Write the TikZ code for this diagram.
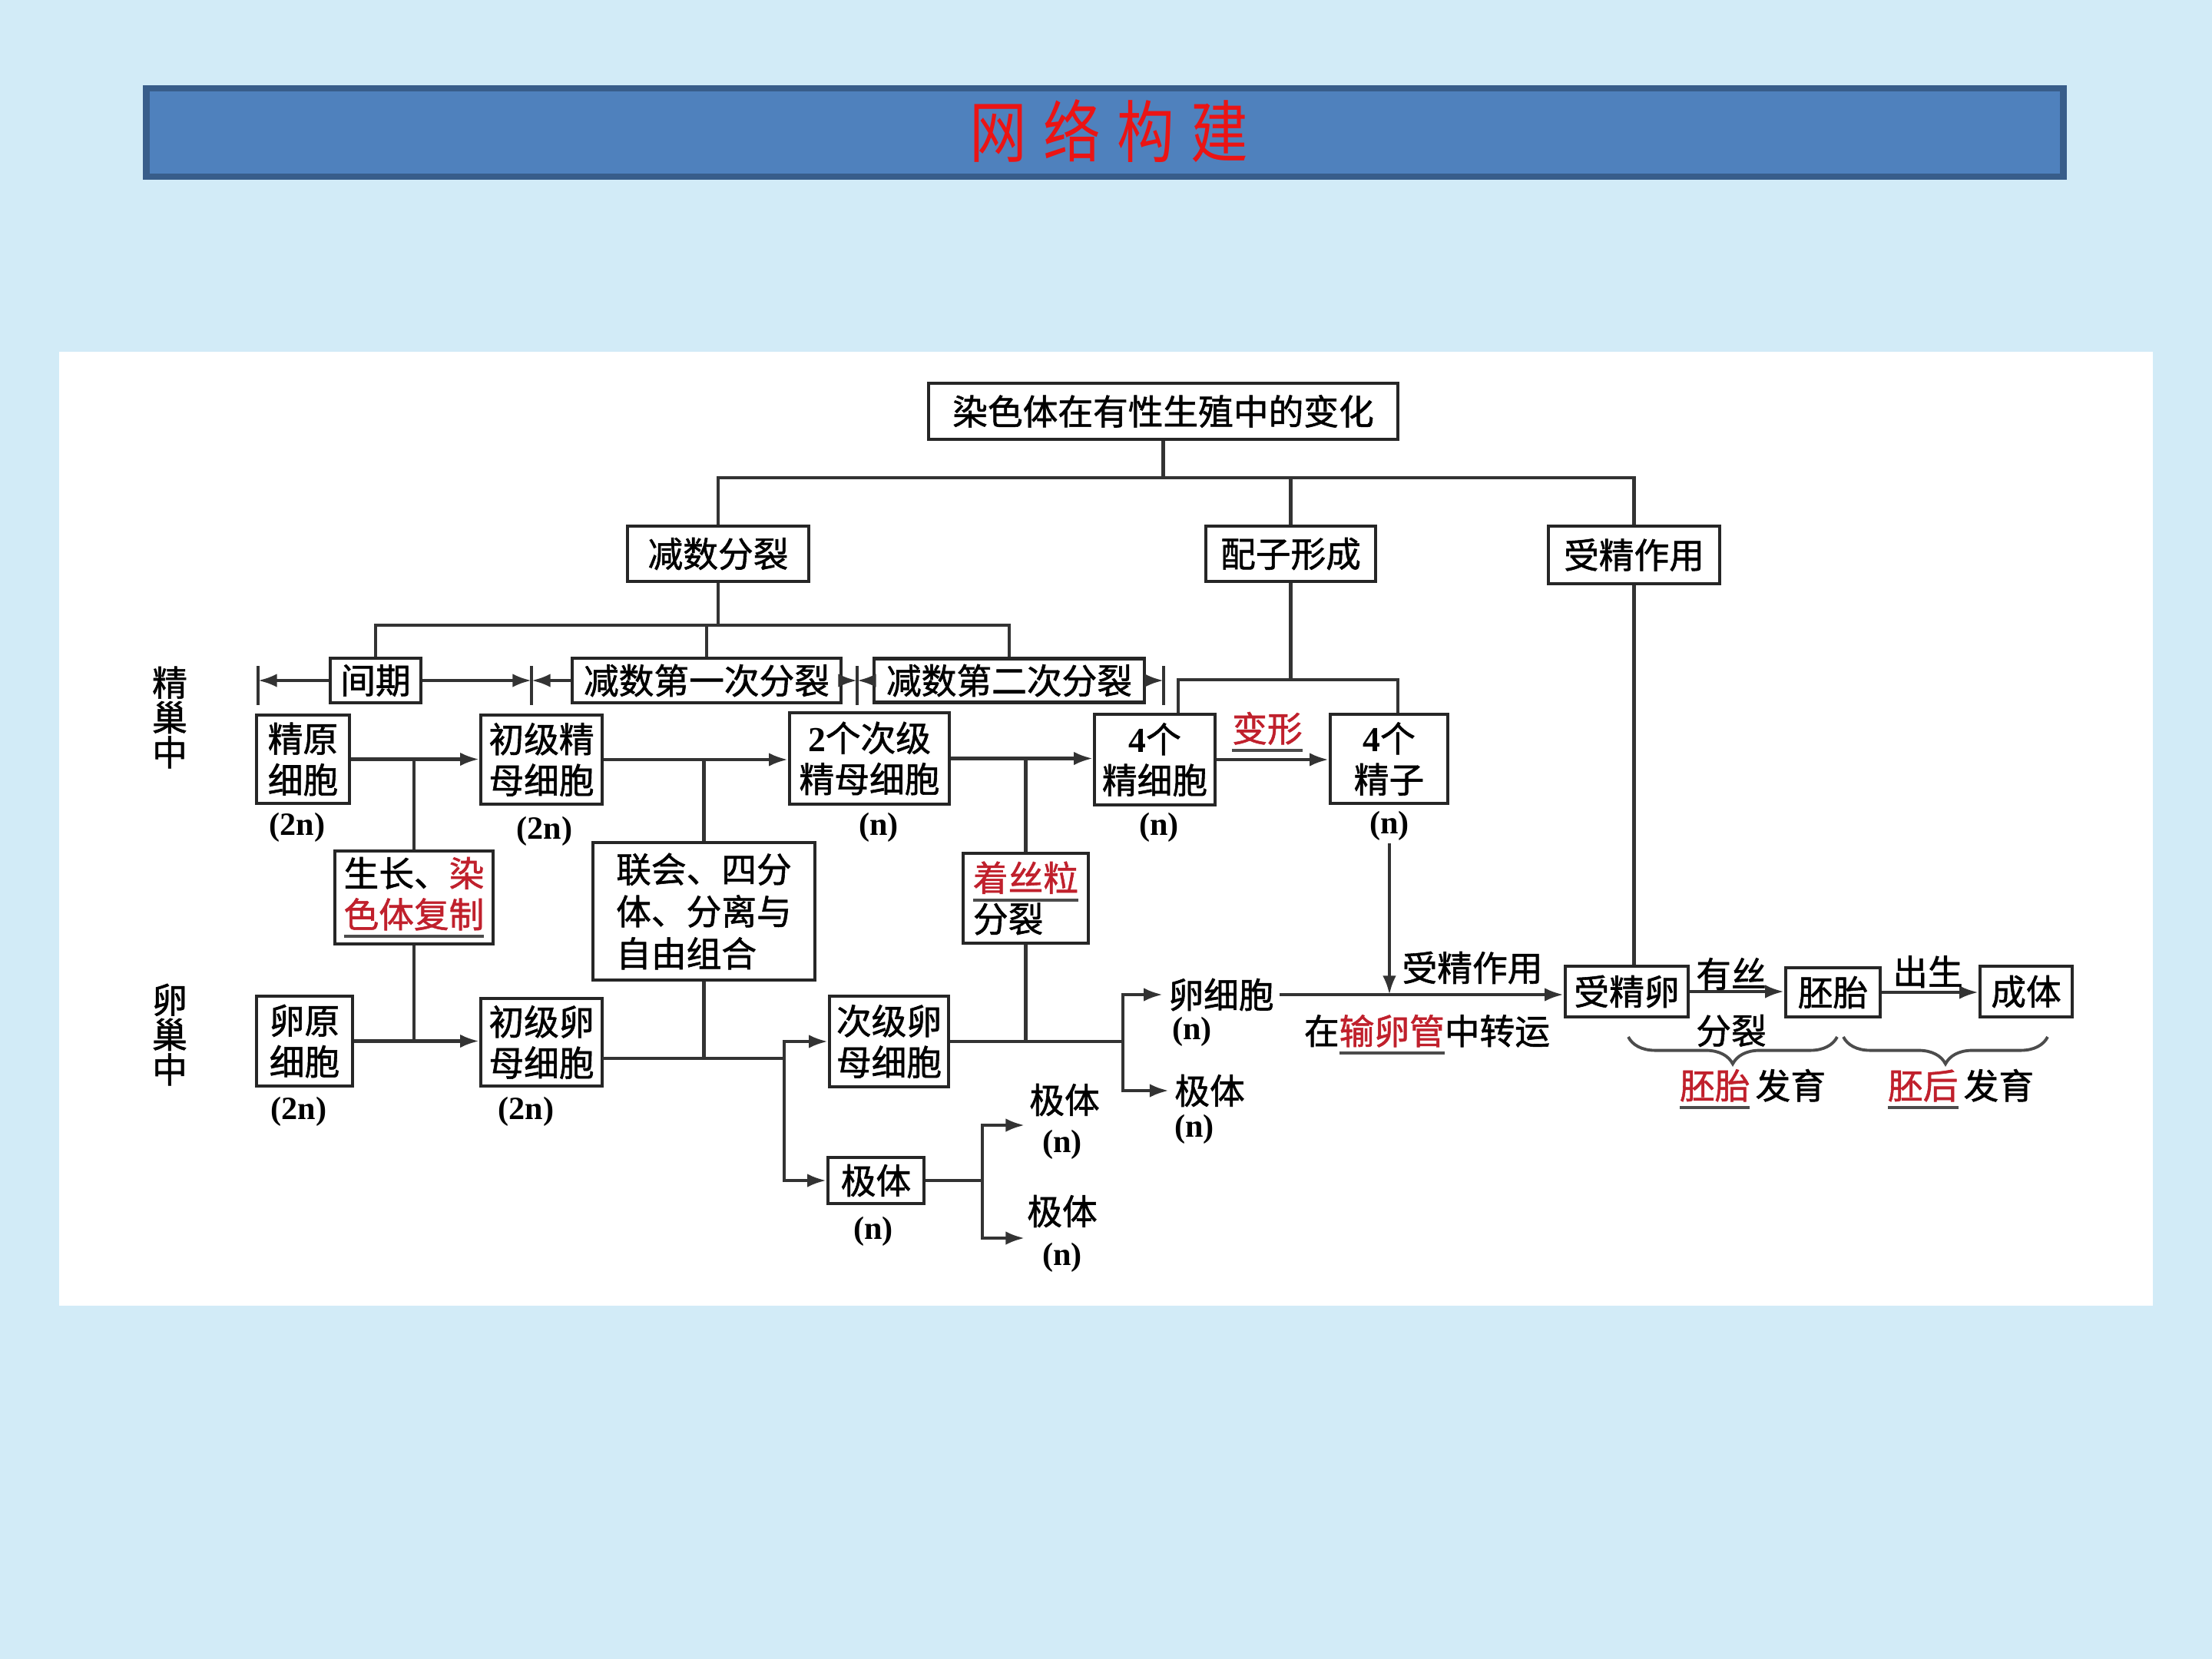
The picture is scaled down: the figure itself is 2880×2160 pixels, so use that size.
\documentclass[tikz,border=0pt]{standalone}
\usepackage{fontspec}
\setmainfont{Liberation Serif}
\newfontfamily\cjk[FakeBold=1.2]{Noto Sans CJK SC}
\newfontfamily\ttl[FakeStretch=0.85]{Noto Sans CJK SC}
\usetikzlibrary{arrows.meta,decorations.pathreplacing}
\definecolor{bg}{RGB}{210,235,247}
\definecolor{barfill}{RGB}{79,129,189}
\definecolor{barline}{RGB}{56,93,138}
\definecolor{dred}{RGB}{192,32,44}
\definecolor{tred}{RGB}{235,20,20}
\newcommand{\uln}[1]{\leavevmode\setbox0=\hbox{#1}\rlap{\color{black!70}\rule[-3.8pt]{\wd0}{1.1pt}}\box0}
\newcommand{\rd}[1]{\textcolor{dred}{#1}}
\newcommand{\dg}[1]{{\rmfamily\bfseries #1}}
\tikzset{
  bx/.style={draw=black!85, line width=1.3pt, fill=white, inner sep=0pt, align=center,
    font=\cjk\fontsize{13pt}{15.2pt}\selectfont},
  wh/.style 2 args={minimum width=#1cm, minimum height=#2cm},
  tx/.style={inner sep=2pt, align=center, font=\cjk\fontsize{13pt}{15.2pt}\selectfont},
  nl/.style={inner sep=1pt, font=\rmfamily\bfseries\fontsize{12pt}{14pt}\selectfont},
  ln/.style={draw=black!80, line width=1.15pt},
  ar/.style={ln, -{Latex[length=7pt,width=5pt]}},
  brc/.style={draw=black!70, line width=1.1pt, decorate, decoration={brace, mirror, amplitude=10pt}},
}
\begin{document}
\begin{tikzpicture}[x=0.01cm, y=-0.01cm]
\useasboundingbox (0,0) rectangle (2880,2160);
\fill[bg] (0,0) rectangle (2880,2160);
\fill[white] (77,458) rectangle (2803,1700);
% title bar
\node[fill=barfill, draw=barline, line width=2.5pt, minimum width=24.95cm, minimum height=1.15cm, inner sep=0pt] (bar) at (1438.5,172.5) {};
\node[font=\ttl\fontsize{25pt}{25pt}\selectfont, text=tred, inner sep=0pt] (title) at (1444,171) {网\hspace{6pt}络\hspace{6pt}构\hspace{6pt}建};

% top level
\node[bx, wh={6.11}{0.73}] (top) at (1514.5,535.5) {染色体在有性生殖中的变化};
\node[bx, wh={2.36}{0.72}] (jsfl) at (935,721) {减数分裂};
\node[bx, wh={2.21}{0.72}] (pzxc) at (1680.5,721) {配子形成};
\node[bx, wh={2.23}{0.75}] (sjzy) at (2127.5,722.5) {受精作用};
\coordinate (bus) at (1500,622);
\draw[ln] (top.south) -- (top.south |- bus);
\draw[ln] (jsfl.north) -- (jsfl.north |- bus) -- (sjzy.north |- bus) -- (sjzy.north);
\draw[ln] (pzxc.north) -- (pzxc.north |- bus);

% phases
\node[bx, wh={1.18}{0.58}] (jq) at (489,886) {间期};
\node[bx, wh={3.50}{0.58}] (j1) at (920,886) {减数第一次分裂};
\node[bx, wh={3.52}{0.57}] (j2) at (1314,886) {减数第二次分裂};
\coordinate (bus2) at (900,814);
\draw[ln] (jsfl.south) -- (jsfl.south |- bus2);
\draw[ln] (jq.north) -- (jq.north |- bus2) -- (j2.north |- bus2) -- (j2.north);
\draw[ln] (j1.north) -- (j1.north |- bus2);
\coordinate (t1) at (336,888);
\coordinate (t2) at (692,888);
\coordinate (t3) at (1116,888);
\coordinate (t4) at (1515,888);
\foreach \t in {t1,t2,t3,t4} {\draw[ln] (\t) ++(0,-21) -- ++(0,51);}
\draw[ar] (jq.west) -- (jq.west -| t1);
\draw[ar] (jq.east) -- (jq.east -| t2);
\draw[ar] (j1.west) -- (j1.west -| t2);
\draw[ar] (j1.east) -- (j1.east -| t3);
\draw[ar] (j2.west) -- (j2.west -| t3);
\draw[ar] (j2.east) -- (j2.east -| t4);

% side labels
\node[tx, font=\cjk\fontsize{13pt}{12.9pt}\selectfont] (jc) at (221,934) {精\\巢\\中};
\node[tx, font=\cjk\fontsize{13pt}{12.9pt}\selectfont] (lc) at (221,1347) {卵\\巢\\中};

% row 1 (sperm)
\node[bx, wh={1.21}{1.15}] (jy) at (394.5,988.5) {精原\\细胞};
\node[bx, wh={1.58}{1.16}] (cjj) at (705,989) {初级精\\母细胞};
\node[bx, wh={2.08}{1.19}] (cjj2) at (1132,987.5) {\dg{2}个次级\\精母细胞};
\node[bx, wh={1.57}{1.18}] (jxb) at (1503.5,989) {\dg{4}个\\精细胞};
\node[bx, wh={1.53}{1.16}] (jz) at (1808.5,988) {\dg{4}个\\精子};
\node[nl] (jyn) at (387,1077) {(2n)};
\node[nl] (cjjn) at (709,1082) {(2n)};
\node[nl] (cjj2n) at (1144,1077) {(n)};
\node[nl] (jxbn) at (1509,1077) {(n)};
\node[nl] (jzn) at (1809,1075) {(n)};
\draw[ar] (jy.east) -- (jy.east -| cjj.west);
\draw[ar] (cjj.east) -- (cjj.east -| cjj2.west);
\draw[ar] (cjj2.east) -- (cjj2.east -| jxb.west);
\draw[ar] (jxb.east) -- (jxb.east -| jz.west);
\node[tx, text=dred] (bxing) at (1650,953) {\uln{变形}};
\coordinate (g1) at (1534,885);
\coordinate (g2) at (1820,885);
\draw[ln] (g1 |- jxb.north) -- (g1) -- (g2) -- (g2 |- jz.north);
\draw[ln] (pzxc.south) -- (pzxc.south |- g1);

% middle boxes
\node[bx, wh={2.06}{1.21}] (szfz) at (539,1168.5) {生长、\rd{染}\\\uln{\rd{色体复制}}};
\node[bx, wh={2.89}{1.79}, align=left, font=\cjk\fontsize{13pt}{15.6pt}\selectfont] (lh) at (916.5,1186.5) {联会、四分\\体、分离与\\自由组合};
\node[bx, wh={1.63}{1.17}, align=left] (zsl) at (1335.5,1169.5) {\uln{\rd{着丝粒}}\\分裂};

% row 2 (egg)
\node[bx, wh={1.25}{1.17}] (ly) at (396.5,1355.5) {卵原\\细胞};
\node[bx, wh={1.58}{1.14}] (cjl) at (705,1357) {初级卵\\母细胞};
\node[bx, wh={1.55}{1.18}] (cjl2) at (1157.5,1356) {次级卵\\母细胞};
\node[bx, wh={1.25}{0.60}] (jt) at (1140.5,1537) {极体};
\node[nl] (lyn) at (389,1447) {(2n)};
\node[nl] (cjln) at (685,1447) {(2n)};
\node[nl] (jtn) at (1137,1603) {(n)};

\draw[ln] (szfz.north) -- (szfz.north |- jy.east);
\draw[ln] (szfz.south) -- (szfz.south |- ly.east);
\draw[ln] (lh.north) -- (lh.north |- cjj.east);
\draw[ln] (zsl.north) -- (zsl.north |- cjj2.east);
\draw[ar] (ly.east) -- (ly.east -| cjl.west);

\coordinate (o1) at (784,1378);
\coordinate (v1) at (1021,1378);
\draw[ln] (o1) -- (v1);
\draw[ln] (lh.south) -- (lh.south |- o1);
\draw[ar] (v1) |- (cjl2.west);
\draw[ar] (v1) |- (jt.west);

\node[tx] (lxb) at (1590,1295) {卵细胞};
\node[nl] (lxbn) at (1552,1343) {(n)};
\node[tx] (jt2) at (1575,1420) {极体};
\node[nl] (jt2n) at (1555,1470) {(n)};
\coordinate (v2) at (1462,1356);
\draw[ln] (cjl2.east) -- (v2);
\draw[ln] (zsl.south) -- (zsl.south |- cjl2.east);
\draw[ar] (v2) |- (lxb.west);
\draw[ar] (v2) |- (jt2.west);

\node[tx] (jt3) at (1386,1432) {极体};
\node[nl] (jt3n) at (1383,1490) {(n)};
\node[tx] (jt4) at (1383,1577) {极体};
\node[nl] (jt4n) at (1383,1637) {(n)};
\coordinate (v3) at (1279,1537);
\coordinate (a1) at (1334,1465);
\coordinate (a2) at (1334,1612);
\draw[ln] (jt.east) -- (v3);
\draw[ar] (v3) |- (a1);
\draw[ar] (v3) |- (a2);

% fertilization
\node[bx, wh={1.60}{0.66}] (sjl) at (2118,1291) {受精卵};
\node[bx, wh={1.23}{0.64}] (pt) at (2386.5,1292) {胚胎};
\node[bx, wh={1.20}{0.66}] (ct) at (2638,1291) {成体};
\draw[ar] (lxb.east) -- (lxb.east -| sjl.west);
\draw[ar] (jzn.south) -- (jzn.south |- lxb.east);
\draw[ln] (sjzy.south) -- (sjzy.south |- sjl.north);
\draw[ar] (sjl.east) -- (sjl.east -| pt.west);
\draw[ar] (pt.east) -- (pt.east -| ct.west);
\node[tx] (sjzyl) at (1917,1260) {受精作用};
\node[tx] (zy) at (1858,1347) {在\uln{\rd{输卵管}}中转运};
\node[tx] (ys) at (2254,1268) {有丝};
\node[tx] (fl) at (2254,1342) {分裂};
\node[tx] (cs) at (2510,1265) {出生};

\coordinate (b1l) at (2120,1350);
\coordinate (b1r) at (2392,1350);
\coordinate (b2l) at (2400,1350);
\coordinate (b2r) at (2666,1350);
\draw[brc] (b1l) -- (b1r);
\draw[brc] (b2l) -- (b2r);
\node[tx] (ptfy) at (2282,1418) {\uln{\rd{胚胎}}\hspace{2pt}发育};
\node[tx] (phfy) at (2553,1418) {\uln{\rd{胚后}}\hspace{2pt}发育};
\end{tikzpicture}
\end{document}
